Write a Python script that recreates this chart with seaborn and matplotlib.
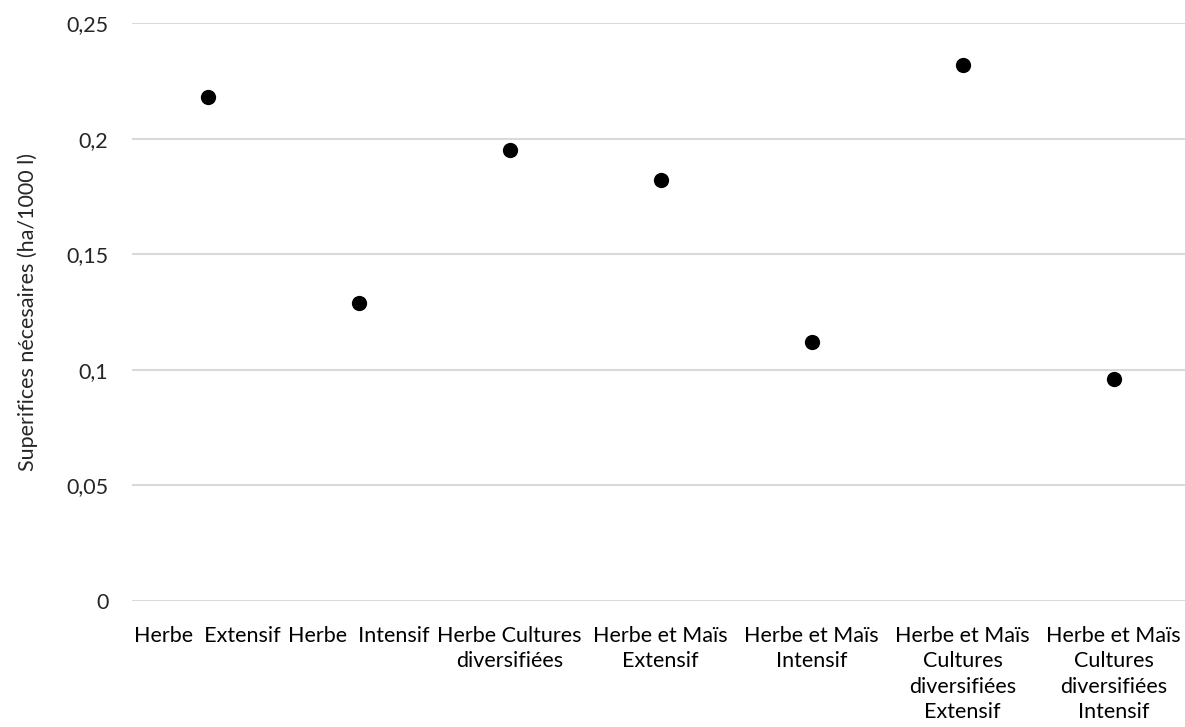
import matplotlib
matplotlib.use("Agg")
import matplotlib.pyplot as plt
import seaborn as sns
import pandas as pd

categories = [
    "Herbe  Extensif",
    "Herbe  Intensif",
    "Herbe Cultures\ndiversifiées",
    "Herbe et Maïs\nExtensif",
    "Herbe et Maïs\nIntensif",
    "Herbe et Maïs\nCultures\ndiversifiées\nExtensif",
    "Herbe et Maïs\nCultures\ndiversifiées\nIntensif",
]
values = [0.218, 0.129, 0.195, 0.182, 0.112, 0.232, 0.096]
yticks = [0, 0.05, 0.1, 0.15, 0.2, 0.25]
ytick_labels = ["0", "0,05", "0,1", "0,15", "0,2", "0,25"]
ylabel = "Superifices nécesaires (ha/1000 l)"

sns.set_theme(style="white")
plt.rcParams["font.family"] = ["Lato", "DejaVu Sans"]

df = pd.DataFrame({"cat": categories, "val": values})

W, H = 1185, 727
fig = plt.figure(figsize=(W / 100, H / 100), dpi=100)
ax = fig.add_axes([132 / W, 126 / H, 1057 / W, (601 - 23) / H])

sns.stripplot(data=df, x="cat", y="val", order=categories, jitter=False,
              color="black", size=11, ax=ax, zorder=3)

ax.set_xlim(-0.5, len(categories) - 0.5)
ax.set_ylim(0, 0.25)
ax.set_yticks(yticks)
ax.set_yticklabels(ytick_labels, fontsize=15.5, color="#262626")
ax.set_xticks(range(len(categories)))
ax.set_xticklabels(categories, fontsize=15.5, color="#000000", linespacing=1.33)
ax.tick_params(axis="both", length=0)
ax.tick_params(axis="y", pad=17)
ax.tick_params(axis="x", pad=18)
for y in yticks:
    ax.axhline(y, color="#d9d9d9", lw=1.5, zorder=1)
for s in ax.spines.values():
    s.set_visible(False)
ax.set_xlabel("")
ax.set_ylabel(ylabel, fontsize=15.5, color="#262626", labelpad=20)

fig.savefig("out.png", dpi=100)
